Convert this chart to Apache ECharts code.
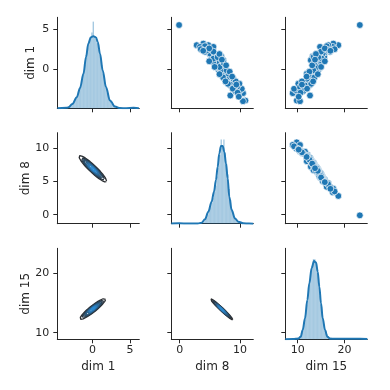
<!DOCTYPE html>
<html><head><meta charset="utf-8">
<script src="https://cdn.jsdelivr.net/npm/echarts@6/dist/echarts.min.js"></script>
<style>html,body{margin:0;padding:0;background:#fff}#c{width:390px;height:390px}</style>
</head><body><div id="c"></div><script>
// ---------- data ----------
const varNames = ['dim 1', 'dim 8', 'dim 15'];
const dim1 = [-1.68,-1.95,-1.45,-1.55,-1.0,-1.28,-0.93,-1.33,-0.9,-1.03,-0.55,-0.95,-0.48,-0.85,-0.45,-0.65,-0.15,-0.48,-0.18,-0.58,-0.2,-0.33,0.1,-0.3,0.18,-0.25,0.15,-0.05,0.42,0.08,0.38,-0.03,0.35,0.23,0.65,0.25,0.73,0.3,0.7,0.55,1.05,0.73,1.08,0.73,1.15,1.08,1.55,1.25,1.83,1.55,2.1,-0.8,0.35,0.11,-0.05,0.38,-0.95,0.83,
  5.5,-3.875,-3.96,-3.25,-2.96,-2.625,-2.42,-2.0,-1.79,-1.17,3.0,3.2,2.79,3.0,2.58,2.875,1.96,2.17,2.79,1.75,1.6,-0.54,1.125,0.91,-2.2,1.33,0.29,-0.125,1.54,-1.5,2.4,-2.7,2.5,
  -1.0,0.8,-1.8,1.5,-0.3,0.3,2.2,-2.4,1.0,-0.9,1.9,-1.5,0.5,2.6,-2.9,-0.6,1.2,-1.9,2.3,-3.4];
const dim8 = [9.01,8.32,8.57,8.67,8.07,7.88,8.33,7.98,7.53,7.98,7.93,7.39,7.74,7.89,7.34,7.19,7.69,7.34,6.94,7.39,7.40,6.85,7.20,7.40,6.85,6.70,7.20,6.85,6.48,6.95,6.95,6.41,6.76,6.96,6.41,6.26,6.76,6.41,6.01,6.41,6.42,5.87,6.17,6.32,5.72,5.52,5.98,5.53,5.03,5.34,5.19,7.29,7.00,7.12,7.02,6.06,8.23,6.02,
  -0.1,10.9,10.5,8.4,10.51,10.0,10.3,9.5,9.9,8.89,2.82,3.92,3.37,4.75,5.31,4.2,5.02,4.2,5.6,5.85,6.9,8.06,7.23,5.57,9.5,5.6,6.6,7.79,6.68,9.3,4.6,9.2,3.5,
  7.2,7.3,8.0,6.3,8.3,5.8,5.6,8.8,4.9,8.7,6.6,7.6,7.7,4.9,9.6,6.6,7.0,9.4,3.9,9.8];
const dim15 = [12.11,12.60,12.66,11.95,13.00,12.91,12.70,13.00,13.17,13.12,13.15,13.50,13.47,12.71,13.71,13.58,13.31,13.62,13.74,13.69,13.67,14.02,13.99,13.19,14.18,14.05,13.79,14.10,14.18,14.11,14.10,14.45,14.42,13.61,14.61,14.48,14.22,14.52,14.64,14.64,14.62,14.97,14.99,14.23,15.28,15.19,14.98,15.38,15.59,15.68,15.81,13.59,14.18,13.45,14.02,14.67,12.79,14.90,
  23.3,9.79,10.49,12.63,8.93,9.64,9.21,11.56,10.13,12.0,18.69,17.62,17.49,16.55,15.49,16.2,15.35,16.92,14.78,14.6,13.2,11.93,12.8,15.2,10.49,15.14,14.07,13.34,13.4,10.9,16.5,11.2,17.9,
  13.6,13.5,12.9,14.4,12.5,15.0,15.0,12.0,15.8,11.9,13.9,13.3,13.1,15.8,10.6,14.3,13.7,10.9,17.0,10.2];

// axis limits and ticks
const rowRanges = [[-4.84, 6.46], [-1.36, 12.35], [8.89, 24.2]];
const colRanges = [[-4.72, 6.26], [-1.39, 12.21], [7.34, 24.9]];
const rowTicks = [[0, 5], [0, 5, 10], [10, 20]];
const colTicks = [[0, 5], [0, 10], [10, 20]];

// diagonal: kde curves (density units)
const kde1X = [-4.7,-3.5,-3.22,-2.7,-2.11,-1.67,-1.22,-0.87,-0.56,-0.24,0.11,0.47,0.69,1.0,1.36,1.8,2.33,3.0,3.67,4.5,5.5,6.2];
const kde1Y = [0,0.002,0.005,0.02,0.051,0.094,0.159,0.237,0.299,0.327,0.333,0.327,0.307,0.252,0.175,0.098,0.036,0.008,0.001,0.0005,0.002,0.0005];
const kde8X = [-1.39,-0.1,1.5,3.0,3.64,4.2,4.75,5.3,5.69,6.02,6.3,6.57,6.85,7.13,7.4,7.68,7.96,8.23,8.62,9.17,9.72,10.55,11.5,12.2];
const kde8Y = [0.0005,0.002,0.0005,0.001,0.0055,0.024,0.066,0.121,0.176,0.240,0.313,0.386,0.427,0.427,0.396,0.331,0.249,0.148,0.075,0.029,0.011,0.002,0.0005,0];
const kde15X = [7.34,9.0,10.14,10.64,11.07,11.56,12.06,12.48,12.98,13.49,13.92,14.28,14.63,14.99,15.35,15.85,16.34,16.92,18,20,22,23.3,24.9];
const kde15Y = [0,0.001,0.003,0.012,0.043,0.097,0.181,0.258,0.328,0.361,0.354,0.312,0.243,0.166,0.097,0.043,0.012,0.003,0.002,0.002,0.002,0.003,0.001];

// diagonal: histogram bins (start, width, heights)
const hist1Start = -3.96, hist1Width = 0.189;
const hist1 = [0.005,0.005,0,0.005,0.01,0.015,0.02,0.03,0.04,0.05,0.06,0.085,0.10,0.13,0.16,0.20,0.245,0.28,0.31,0.33,0.35,0.40,0.33,0.32,0.30,0.27,0.24,0.20,0.16,0.12,0.095,0.07,0.05,0.035,0.02,0.015,0.01,0.005,0,0,0,0,0,0,0,0,0,0,0,0.005];
const hist8Start = -0.1, hist8Width = 0.222;
const hist8 = [0.004,0,0,0,0,0,0,0,0,0,0,0,0,0.002,0.002,0.004,0.004,0.008,0.012,0.02,0.03,0.05,0.07,0.09,0.115,0.14,0.175,0.21,0.26,0.32,0.38,0.463,0.42,0.463,0.39,0.33,0.27,0.19,0.13,0.08,0.055,0.035,0.025,0.015,0.01,0.008,0.004,0.004,0.002,0.002];
const hist15Start = 8.93, hist15Width = 0.287;
const hist15 = [0.004,0.004,0.004,0.008,0.008,0.015,0.03,0.05,0.08,0.11,0.16,0.21,0.26,0.31,0.34,0.37,0.37,0.35,0.31,0.26,0.2,0.15,0.1,0.065,0.04,0.025,0.015,0.01,0.008,0.006,0.004,0.004,0.002,0.002,0.002,0,0,0,0,0,0,0,0,0,0,0,0,0,0,0.003];

// KDE contour level fractions (of peak density)
const levelFractions = [0.1,0.2,0.3,0.4,0.5,0.6,0.7,0.8,0.9];

// ---------- layout / style ----------
const lefts = [57.3, 171.3, 285.3], tops = [17.3, 132.7, 248.3], W = 82, H = 91;
const densMax = [0.42, 0.5, 0.42];
const K = 1.08, TRIM = 4;
const BLUE = '#1f77b4', INK = '#262626', FONT = 'DejaVu Sans';

const vars = [dim1, dim8, dim15];
const kdes = [[kde1X, kde1Y], [kde8X, kde8Y], [kde15X, kde15Y]];
const hists = [[hist1Start, hist1Width, hist1], [hist8Start, hist8Width, hist8], [hist15Start, hist15Width, hist15]];

function axis(range, ticks, showLabels, name, isX, gi) {
  return {
    type: 'value', gridIndex: gi, min: range[0], max: range[1],
    position: isX ? 'bottom' : 'left',
    axisLine: { show: true, onZero: false, lineStyle: { color: INK, width: 1 } },
    axisTick: { show: true, length: 4, customValues: ticks, lineStyle: { color: INK, width: 1 } },
    axisLabel: { show: showLabels, customValues: ticks, fontSize: 11, color: INK, fontFamily: FONT, margin: isX ? 5 : 8 },
    splitLine: { show: false },
    name: name, nameLocation: 'middle', nameGap: isX ? 22 : 20,
    nameTextStyle: { fontSize: 12, color: INK, fontFamily: FONT }
  };
}

function robustStats(xs, ys) {
  let idx = xs.map((_, i) => i);
  let mx, my, sxx, syy, sxy;
  for (let it = 0; it < 5; it++) {
    const n = idx.length;
    mx = 0; my = 0;
    idx.forEach(i => { mx += xs[i]; my += ys[i]; });
    mx /= n; my /= n;
    sxx = 0; syy = 0; sxy = 0;
    idx.forEach(i => { const dx = xs[i] - mx, dy = ys[i] - my; sxx += dx * dx; syy += dy * dy; sxy += dx * dy; });
    sxx /= (n - 1); syy /= (n - 1); sxy /= (n - 1);
    const det = sxx * syy - sxy * sxy;
    idx = xs.map((_, i) => i).filter(i => {
      const dx = xs[i] - mx, dy = ys[i] - my;
      const d2 = (syy * dx * dx - 2 * sxy * dx * dy + sxx * dy * dy) / det;
      return d2 < TRIM;
    });
  }
  return { mx, my, sxx, syy, sxy };
}

function lerpColor(a, b, t) {
  const pa = [1, 3, 5].map(k => parseInt(a.substr(k, 2), 16));
  const pb = [1, 3, 5].map(k => parseInt(b.substr(k, 2), 16));
  return 'rgb(' + pa.map((v, k) => Math.round(v + (pb[k] - v) * t)).join(',') + ')';
}

const grids = [], xAxes = [], yAxes = [], series = [];
for (let r = 0; r < 3; r++) for (let c = 0; c < 3; c++) {
  const g = r * 3 + c;
  grids.push({ left: lefts[c], top: tops[r], width: W, height: H });
  xAxes.push(axis(colRanges[c], colTicks[c], r === 2, r === 2 ? varNames[c] : '', true, g));
  yAxes.push(axis(rowRanges[r], rowTicks[r], c === 0, c === 0 ? varNames[r] : '', false, g));
}
for (let d = 0; d < 3; d++) {
  yAxes.push({ type: 'value', gridIndex: d * 4, min: 0, max: densMax[d], show: false, splitLine: { show: false } });
}

for (let r = 0; r < 3; r++) for (let c = 0; c < 3; c++) {
  const g = r * 3 + c;
  if (r === c) {
    const [st, w, hs] = hists[r];
    series.push({
      type: 'custom', xAxisIndex: g, yAxisIndex: 9 + r, silent: true,
      data: hs.map((h, i) => [st + i * w, st + (i + 1) * w, h]),
      encode: { x: [0, 1], y: 2 },
      renderItem: (params, api) => {
        const p0 = api.coord([api.value(0), 0]);
        const p1 = api.coord([api.value(1), api.value(2)]);
        return { type: 'rect', shape: { x: p0[0], y: p1[1], width: p1[0] - p0[0], height: p0[1] - p1[1] },
          style: { fill: 'rgba(31,119,180,0.4)' } };
      }
    });
    const [kx, ky] = kdes[r];
    series.push({
      type: 'line', xAxisIndex: g, yAxisIndex: 9 + r, showSymbol: false, smooth: 0.35, smoothMonotone: 'x',
      data: kx.map((x, i) => [x, ky[i]]),
      lineStyle: { color: BLUE, width: 2 }, z: 3, silent: true
    });
  } else if (r < c) {
    const xs = vars[c], ys = vars[r];
    series.push({
      type: 'scatter', xAxisIndex: g, yAxisIndex: g, symbolSize: 6.8, silent: true,
      data: xs.map((x, i) => [x, ys[i]]),
      itemStyle: { color: BLUE, borderColor: '#fff', borderWidth: 0.7, opacity: 1 }
    });
  } else {
    const xs = vars[c], ys = vars[r];
    const s = robustStats(xs, ys);
    const a = Math.sqrt(s.sxx), b = s.sxy / a, cc = Math.sqrt(Math.max(s.syy - b * b, 1e-9));
    levelFractions.forEach((f) => {
      const rad = Math.sqrt(-2 * Math.log(f)) * K;
      const pts = [];
      for (let k = 0; k <= 120; k++) {
        const th = 2 * Math.PI * k / 120;
        const u = Math.cos(th), v = Math.sin(th);
        pts.push([s.mx + rad * a * u, s.my + rad * (b * u + cc * v)]);
      }
      const t = (f - levelFractions[0]) / (levelFractions[levelFractions.length - 1] - levelFractions[0]);
      series.push({
        type: 'line', xAxisIndex: g, yAxisIndex: g, showSymbol: false, silent: true,
        data: pts, lineStyle: { color: lerpColor('#2a2d31', '#2b88cf', t), width: 1.3 }
      });
    });
  }
}

const chart = echarts.init(document.getElementById('c'), null, { renderer: 'canvas' });
chart.setOption({
  animation: false, backgroundColor: '#fff',
  grid: grids, xAxis: xAxes, yAxis: yAxes, series: series
});
</script></body></html>
